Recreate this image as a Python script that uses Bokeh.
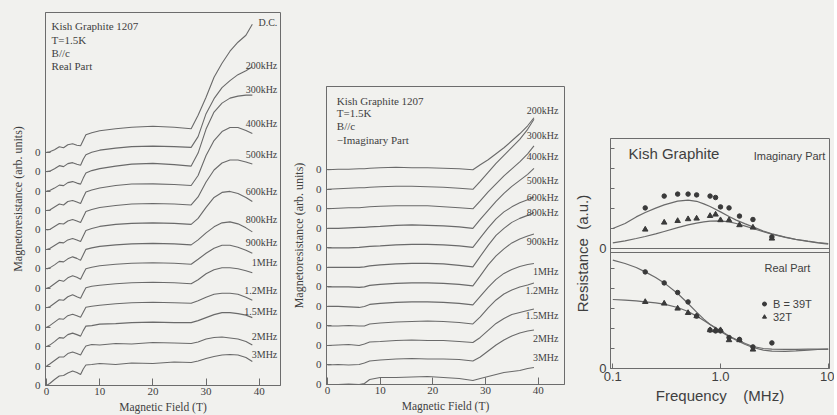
from bokeh.plotting import figure
from bokeh.models import (Range1d, FixedTicker, CustomJSTickFormatter, Label, Span,
                          Legend, LegendItem, ColumnDataSource, Spacer)
from bokeh.layouts import row, column
from bokeh.embed import file_html
from bokeh.resources import INLINE
from bokeh.core.properties import value

# ---------------------------------------------------------------- data
# Left panel: real part, rise above each trace's own zero (arb. units)
field_left = [0, 0.6, 1.5, 2.4, 3.2, 4.0, 4.9, 5.7, 6.4, 6.9, 7.4, 8.5, 10, 13, 16, 20,
              24, 27.2, 28.5, 30, 31.5, 33, 34.5, 36, 37.5, 38.7]
real_labels = ["D.C.", "200kHz", "300kHz", "400kHz", "500kHz", "600kHz", "800kHz",
               "900kHz", "1MHz", "1.2MHz", "1.5MHz", "2MHz", "3MHz"]
real_dc = [0, 0.5, 2.5, 5.5, 4.5, 7.5, 8.5, 7, 6.5, 12, 17.5, 19.5, 21.5, 23.5, 25, 26, 25, 23.5, 37, 55, 75, 89, 101, 110, 117, 128]
real_200k = [0, 0.5, 3, 6, 5, 8, 9, 7.5, 6.5, 12.5, 17, 19.5, 21.5, 23.5, 25, 25.5, 25, 24.3, 35, 58, 73, 84, 91, 97, 101, 105]
real_300k = [0, 0.5, 3, 6, 5.5, 8.5, 9.5, 8, 7, 13, 18, 20.5, 22.5, 25, 27, 27.7, 26.5, 25, 38, 62, 79, 88, 93, 95, 96, 96]
real_400k = [0, 0.5, 3.5, 6.5, 5.5, 9, 10, 8.5, 7, 13, 18.5, 20.5, 22.5, 25, 26.5, 26.7, 26, 25, 35, 55, 70, 79, 83, 83, 80, 77]
real_500k = [0, 0.5, 3.5, 6.5, 6, 9, 10.5, 9, 7.5, 13, 18.5, 20.5, 22.5, 24.5, 26, 26.5, 26, 25, 33, 48, 60, 67, 70, 70, 68, 66]
real_600k = [0, 1, 4, 7, 6.5, 9.5, 11, 9.5, 8, 13.5, 19, 21, 23, 25, 26, 26.5, 26, 25, 31, 42, 52, 57, 58, 56, 52, 48]
real_800k = [0, 1, 4, 7.5, 7, 10, 12, 10.5, 8.5, 14, 19.5, 21, 22.5, 24, 25, 25.5, 25, 24, 29, 36, 42, 46, 47, 45, 41, 37]
real_900k = [0, 1, 4.5, 8, 7, 10.5, 12.5, 11, 9, 14.5, 19.5, 21, 22.5, 24, 25, 25.5, 25, 24, 29, 35, 40, 43, 43, 41, 38, 35]
real_1m = [0, 1, 4.5, 8, 7.5, 11, 13, 11, 9.5, 15, 20, 21.5, 22.5, 24, 25, 25.5, 25, 24, 28, 34, 38, 40, 40, 39, 37, 35]
real_1m2 = [0, 1.5, 5, 8.5, 8, 11.5, 13, 11.5, 10, 15, 20, 21, 22, 23.5, 24.5, 25, 24.5, 24, 26.5, 30, 33, 34, 34, 33, 30, 27]
real_1m5 = [0, 1.5, 5, 9, 8.5, 12, 13.5, 12, 10.5, 16, 20.5, 21, 22.5, 23, 24, 24.5, 24, 24, 26, 29, 32, 34, 34, 33, 31.5, 29]
real_2m = [0, 2, 5.5, 9, 9, 12.5, 14, 12.5, 11, 16, 20, 21.5, 21, 22.5, 22, 23.5, 23, 22.5, 24, 27, 28.5, 29, 28, 27, 24.5, 21]
real_3m = [0, 2, 6, 9.5, 10, 12.5, 14.5, 13, 11, 16.5, 20.5, 21, 22, 21, 22.5, 22, 23.5, 23, 24.5, 27, 29, 30.5, 31, 30.5, 28, 24]
real_traces = [real_dc, real_200k, real_300k, real_400k, real_500k, real_600k, real_800k,
               real_900k, real_1m, real_1m2, real_1m5, real_2m, real_3m]

# Middle panel: minus imaginary part
field_mid = [0, 2, 4, 6, 7, 8, 10, 13, 16, 19, 22, 25, 27.6, 29, 30.5, 32, 33.5, 35, 36.5, 38, 39.2]
imag_labels = ["200kHz", "300kHz", "400kHz", "500kHz", "600kHz", "800kHz", "900kHz",
               "1MHz", "1.2MHz", "1.5MHz", "2MHz", "3MHz"]
imag_200k = [0, 0.5, 0.5, 1, 1, 1.5, 2, 2.5, 2, 2, 1.5, 1, 0, 5, 10, 16, 22, 29, 36, 44, 52]
imag_300k = [0, 0.5, 1, 1.5, 1.5, 2, 2.5, 3, 3, 2.5, 2, 1, 0, 8, 17, 26, 34, 42, 50, 60, 70]
imag_400k = [0, 0.5, 1, 1, 1.5, 2, 2.5, 3, 3, 3, 2, 1, 0, 8, 17, 25, 33, 40, 47, 55, 63]
imag_500k = [0, 0, 0.5, 1, 1, 1.5, 2, 3, 3.5, 3, 2.5, 1.5, 0, 9, 18, 27, 35, 42, 48, 54, 60]
imag_600k = [0, 0, 0, 0.5, 1, 1.5, 2, 3, 3.5, 3.5, 3, 2, 0.5, 10, 20, 29, 36, 41, 45, 48, 51]
imag_800k = [0, 0, 0, 0, 0.5, 1.5, 2.5, 3.5, 4, 4, 3.5, 2, 0.5, 11, 22, 32, 39, 45, 49, 52, 55]
imag_900k = [0, 0, 0, -0.5, 0, 1.5, 2.5, 3.5, 4, 4, 3.5, 2.5, 1, 11, 22, 31, 38, 44, 48, 51, 53]
imag_1m = [0, 0, -0.5, -1, 0, 2, 3, 4, 4.5, 4.5, 4, 3, 1.5, 10, 19, 27, 33, 37, 40, 42, 43]
imag_1m2 = [0, 0, 0.5, 0, 0, 2, 3, 4, 4.5, 5, 4.5, 3.5, 2, 9, 18, 26, 32, 36, 39, 41, 43]
imag_1m5 = [0, 0.5, 1, 0, 1.5, 3.5, 4, 5, 5.5, 5, 5, 4, 3, 8, 15, 22, 27, 31, 33, 35, 36.5]
imag_2m = [0, 0.5, 0, 0.5, 2, 4, 5, 6, 6.5, 6, 6, 5.5, 4, 8, 14, 20, 25, 29, 32, 34, 35]
imag_3m = [0, 0, 0.5, 0, 1, 5, 7, 7, 7.5, 8, 7, 6, 4, 6, 8, 10, 12, 13, 14, 16, 17]
imag_traces = [imag_200k, imag_300k, imag_400k, imag_500k, imag_600k, imag_800k, imag_900k,
               imag_1m, imag_1m2, imag_1m5, imag_2m, imag_3m]

# Right panel: resistance vs frequency (MHz)
freq = [0.2, 0.3, 0.4, 0.5, 0.6, 0.8, 0.9, 1.0, 1.2, 1.5, 2.0, 3.0]
imag_39T = [2.03, 2.62, 2.72, 2.72, 2.68, 2.62, 2.55, 2.08, 2.03, 1.62, 1.45, 0.58]
imag_32T = [0.95, 1.30, 1.38, 1.47, 1.50, 1.63, 1.70, 1.42, 1.42, 1.17, 1.05, 0.50]
real_39T = [4.83, 4.28, 3.80, 3.33, 2.62, 1.92, 1.88, 1.88, 1.55, 1.45, 1.08, 1.28]
freq_32 = [0.2, 0.3, 0.4, 0.5, 0.6, 0.8, 0.9, 1.0, 1.2, 1.5, 2.0]
real_32T = [3.33, 3.25, 3.00, 2.78, 2.62, 1.92, 1.92, 1.92, 1.42, 1.42, 0.95]
fit_freq = [0.1, 0.13, 0.165, 0.2, 0.25, 0.3, 0.4, 0.5, 0.6, 0.7, 0.8, 1.0, 1.2, 1.4, 1.7,
            2.0, 2.5, 3.0, 4.0, 5.0, 6.5, 8.0, 10.0]
fit_imag_39T = [1.0, 1.25, 1.58, 1.8, 2.02, 2.18, 2.37, 2.42, 2.36, 2.23, 2.1, 1.83, 1.6, 1.42,
                1.23, 1.08, 0.87, 0.73, 0.57, 0.46, 0.37, 0.30, 0.25]
fit_imag_32T = [0.28, 0.38, 0.5, 0.6, 0.73, 0.85, 1.04, 1.18, 1.27, 1.33, 1.37, 1.38, 1.33, 1.25,
                1.12, 1.0, 0.84, 0.72, 0.56, 0.45, 0.35, 0.28, 0.22]
fit_real_39T = [5.42, 5.25, 5.05, 4.83, 4.55, 4.28, 3.75, 3.25, 2.82, 2.47, 2.2, 1.85, 1.6, 1.42,
                1.2, 1.05, 0.92, 0.87, 0.86, 0.88, 0.92, 0.95, 0.97]
fit_real_32T = [3.45, 3.42, 3.38, 3.33, 3.28, 3.22, 3.05, 2.85, 2.62, 2.4, 2.2, 1.9, 1.62, 1.45,
                1.25, 1.1, 1.0, 0.97, 0.96, 0.96, 0.97, 0.97, 0.97]

# ---------------------------------------------------------------- style / layout
BG = "#f1f1ee"
FRAME = "#6c6c6c"
CURVE = "#6a6a6a"
TEXT = "#3f3f3f"
SERIF = "Liberation Serif"
SANS = "Liberation Sans"
STEP_L = 19.44          # vertical spacing between stacked traces (left)
STEP_M = 19.52          # vertical spacing between stacked traces (middle)
LEFT_LABEL_DY = [2, 1, 6, 10, 9, 10, 12, 11, 10, 10, 6, 9, 7]
MID_LABEL_DY = [7, -16, -11, -12, -1, 0, -8, -8, -8, -7, -9, 10]


def make_fig(fw, fh, left, right, top, bottom, xr, yr, x_type="linear"):
    p = figure(frame_width=fw, frame_height=fh, min_border_left=left, min_border_right=right,
               min_border_top=top, min_border_bottom=bottom, x_range=xr, y_range=yr,
               x_axis_type=x_type, output_backend="svg", toolbar_location=None)
    p.background_fill_color = BG
    p.border_fill_color = BG
    p.outline_line_color = FRAME
    p.outline_line_width = 1
    p.grid.visible = False
    for ax in p.axis:
        ax.axis_line_color = FRAME
        ax.major_tick_line_color = FRAME
        ax.minor_tick_line_color = None
        ax.major_tick_out = 0
        ax.major_label_text_color = TEXT
        ax.axis_label_text_color = TEXT
        ax.axis_label_text_font_style = "normal"
    return p


def stacked_panel(p, fields, traces, labels, step, label_x, label_dy, label_font_size):
    n = len(traces)
    offsets = [(n - 1 - i) * step for i in range(n)]
    for tr, off in zip(traces, offsets):
        p.line(fields, [v + off for v in tr], line_color=CURVE, line_width=1.1)
    ly = [off + tr[-1] + dy for tr, off, dy in zip(traces, offsets, label_dy)]
    src = ColumnDataSource(dict(x=[label_x] * n, y=ly, t=labels))
    p.text("x", "y", text="t", source=src, text_align="right", text_baseline="middle",
           text_font=value(SERIF), text_font_size=value(label_font_size), text_color=TEXT)
    p.yaxis.ticker = FixedTicker(ticks=offsets)
    p.yaxis.formatter = CustomJSTickFormatter(code="return '0';")
    p.yaxis.major_tick_in = 5
    p.xaxis.ticker = FixedTicker(ticks=[0, 10, 20, 30, 40])
    p.xaxis.major_tick_in = 7
    for ax in p.axis:
        ax.major_label_text_font = SERIF
        ax.major_label_text_font_size = "11px"
        ax.axis_label_text_font = SERIF
    p.xaxis.axis_label = "Magnetic Field (T)"
    p.xaxis.axis_label_text_font_size = "11.5px"
    p.yaxis.axis_label = "Magnetoresistance (arb. units)"
    p.yaxis.axis_label_text_font_size = "12px"
    p.xaxis.major_label_standoff = 2
    p.xaxis.axis_label_standoff = 3
    p.yaxis.major_label_standoff = 5
    p.yaxis.axis_label_standoff = 7


def add_notes(p, x, ys, lines):
    for y, t in zip(ys, lines):
        p.add_layout(Label(x=x, y=y, text=t, text_font=SERIF, text_font_size="11px",
                           text_color=TEXT, text_baseline="middle"))


# ---- left panel (real part)
f1 = make_fig(235, 373, 45, 8, 12, 18, Range1d(-0.2, 44.0), Range1d(0, 373))
stacked_panel(f1, field_left, real_traces, real_labels, STEP_L, 43.4, LEFT_LABEL_DY, "10px")
add_notes(f1, 0.94, [360, 346, 333, 320],
          ["Kish Graphite 1207", "T=1.5K", "B//c", "Real Part"])

# ---- middle panel (imaginary part)
f2 = make_fig(238, 298, 36, 7, 0, 18, Range1d(-0.2, 45.0), Range1d(0, 298))
stacked_panel(f2, field_mid, imag_traces, imag_labels, STEP_M, 43.85, MID_LABEL_DY, "10px")
add_notes(f2, 1.76, [284, 271.3, 259, 245],
          ["Kish Graphite 1207", "T=1.5K", "B//c", "\u2212Imaginary Part"])

# ---- right panel (frequency dependence)
f3 = make_fig(219, 230, 38, 5, 0, 30, Range1d(0.0952, 10.28), Range1d(0, 11.5), x_type="log")
f3.extra_y_ranges = {"imag": Range1d(-6.0, 5.5)}
for fy in (fit_imag_39T, fit_imag_32T):
    f3.line(fit_freq, fy, y_range_name="imag", line_color=CURVE, line_width=1.2)
for fy in (fit_real_39T, fit_real_32T):
    f3.line(fit_freq, fy, line_color=CURVE, line_width=1.2)
f3.scatter(freq, imag_39T, y_range_name="imag", marker="circle", size=4.5,
           fill_color="#3a3a3a", line_color="#3a3a3a")
f3.scatter(freq, imag_32T, y_range_name="imag", marker="triangle", size=5.5,
           fill_color="#3a3a3a", line_color="#3a3a3a")
r_dot = f3.scatter(freq, real_39T, marker="circle", size=4.5,
                   fill_color="#3a3a3a", line_color="#3a3a3a")
r_tri = f3.scatter(freq_32, real_32T, marker="triangle", size=5.5,
                   fill_color="#3a3a3a", line_color="#3a3a3a")
f3.add_layout(Span(location=6.0, dimension="width", line_color=FRAME, line_width=1))
f3.add_layout(Span(location=5.8, dimension="width", line_color=FRAME, line_width=1))
f3.yaxis.ticker = FixedTicker(ticks=[0, 1, 2, 3, 4, 5, 6, 7, 8, 9, 10, 11])
f3.yaxis.formatter = CustomJSTickFormatter(code="return (tick == 0 || tick == 6) ? '0' : '';")
f3.yaxis.major_tick_in = 4
f3.xaxis.ticker = FixedTicker(ticks=[0.1, 1, 10])
f3.xaxis.formatter = CustomJSTickFormatter(
    code="return tick < 0.5 ? '0.1' : (tick < 5 ? '1.0' : '10');")
f3.xaxis.major_tick_in = 5
for ax in f3.axis:
    ax.major_label_text_font = SANS
    ax.major_label_text_font_size = "13px"
    ax.axis_label_text_font = SANS
    ax.axis_label_text_font_size = "15px"
f3.xaxis.axis_label = "Frequency\u00a0\u00a0\u00a0\u00a0(MHz)"
f3.yaxis.axis_label = "Resistance\u00a0\u00a0(a.u.)"
f3.xaxis.major_label_standoff = 3
f3.xaxis.axis_label_standoff = 3
f3.yaxis.major_label_standoff = 4
f3.yaxis.axis_label_standoff = 5
f3.add_layout(Label(x=0.14, y=10.75, text="Kish Graphite", text_font=SANS,
                    text_font_size="15px", text_color=TEXT, text_baseline="middle"))
f3.add_layout(Label(x=9.4, y=10.65, text="Imaginary Part", text_font=SANS,
                    text_font_size="11px", text_color=TEXT, text_baseline="middle",
                    text_align="right"))
f3.add_layout(Label(x=2.56, y=5.05, text="Real Part", text_font=SANS,
                    text_font_size="11px", text_color=TEXT, text_baseline="middle"))
legend = Legend(items=[LegendItem(label="B = 39T", renderers=[r_dot]),
                       LegendItem(label="32T", renderers=[r_tri])],
                location=(149, 45))
legend.background_fill_alpha = 0
legend.border_line_alpha = 0
legend.padding = 0
legend.margin = 0
legend.spacing = 0
legend.glyph_width = 10
legend.glyph_height = 13
legend.label_height = 13
legend.label_standoff = 4
legend.label_text_font = SANS
legend.label_text_font_size = "11px"
legend.label_text_color = TEXT
f3.add_layout(legend)

# spacers above the middle and right panels keep each frame at its own height
col2 = column(Spacer(height=86, width=270, styles={"background-color": BG}), f2, spacing=0)
col3 = column(Spacer(height=138, width=250, styles={"background-color": BG}), f3, spacing=0)
layout = row(f1, col2, col3, spacing=0)
layout.styles = {"background-color": BG}

open("out.html", "w").write(file_html(layout, INLINE))
